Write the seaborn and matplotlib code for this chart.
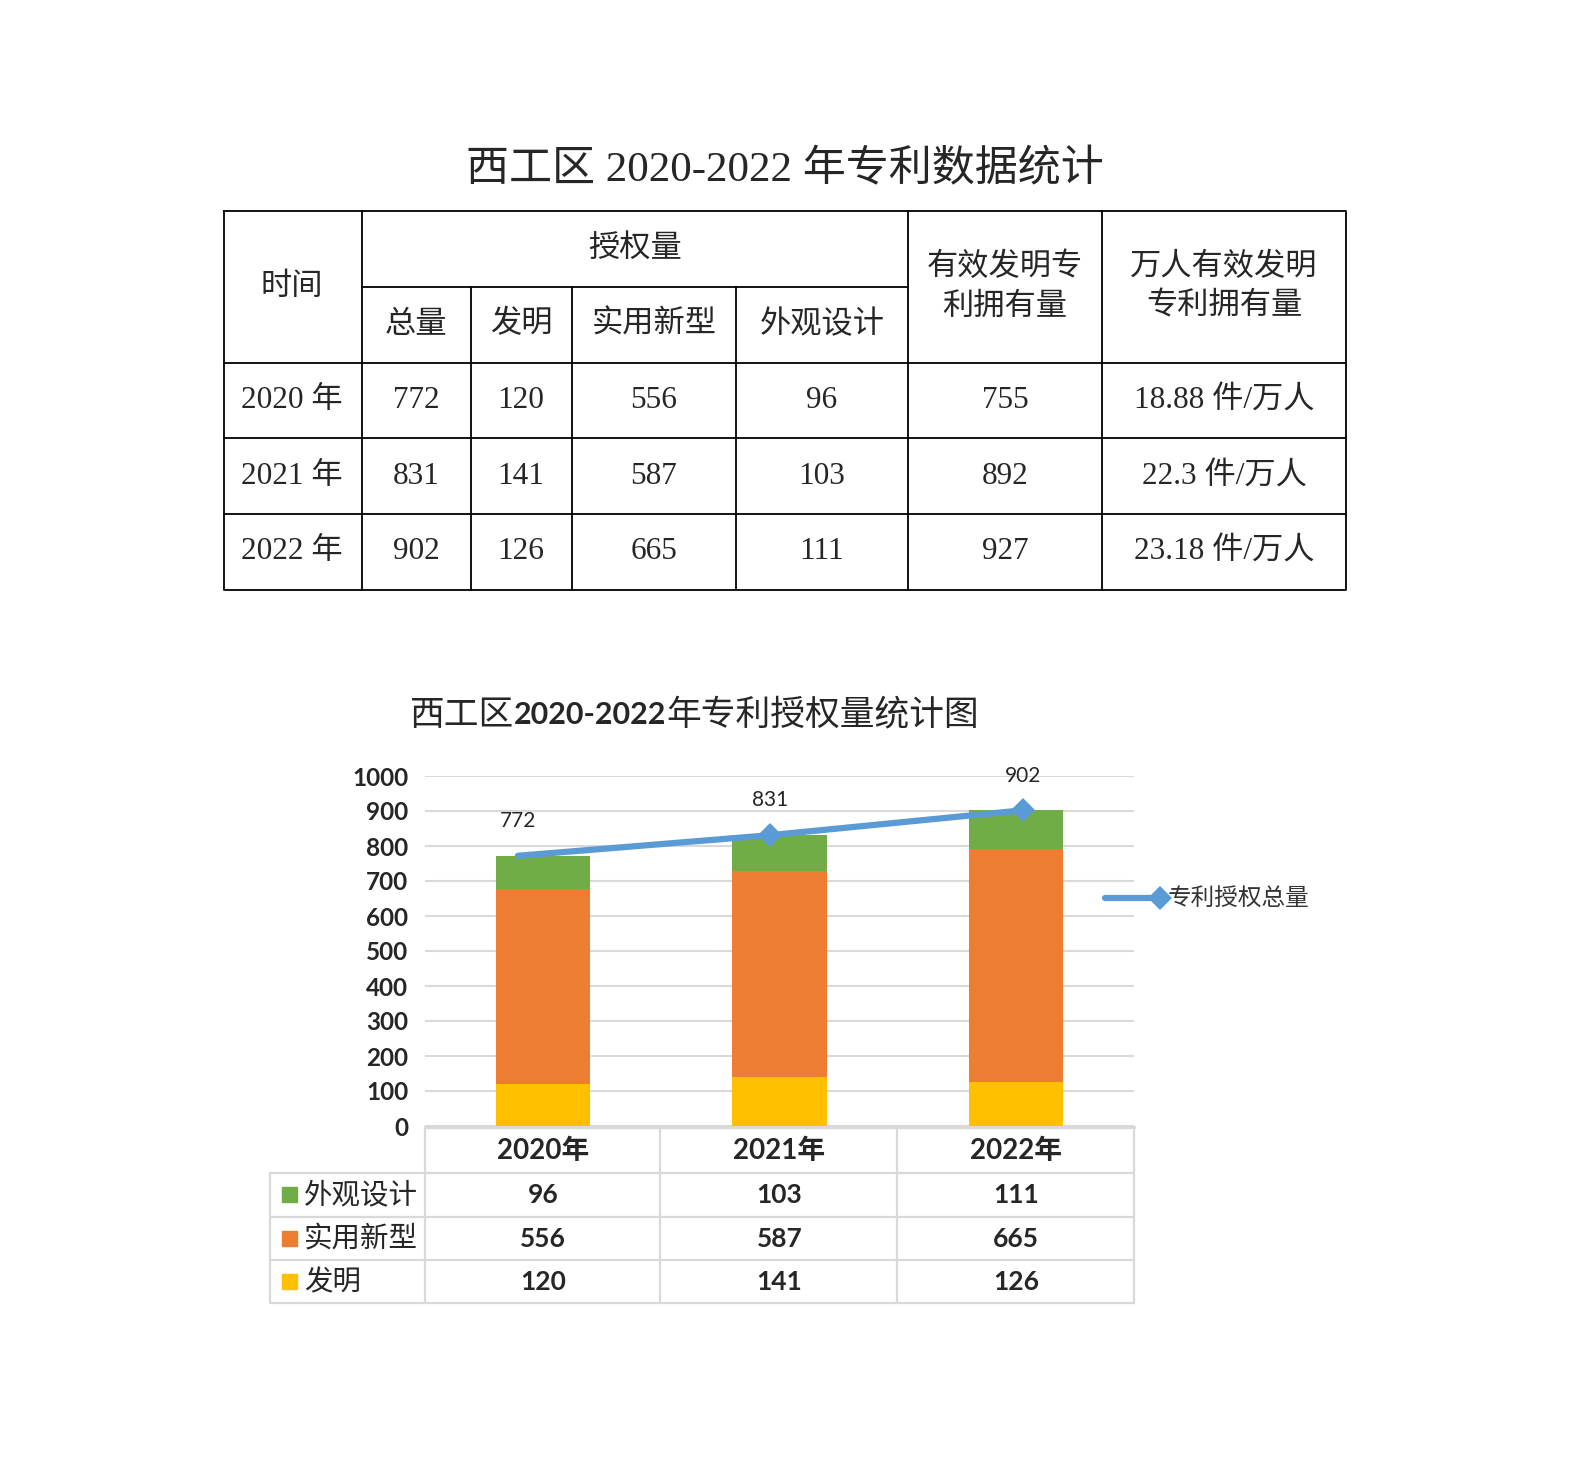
import numpy as np
import pandas as pd
import seaborn as sns
import matplotlib.pyplot as plt
import matplotlib.transforms as mtrans
from matplotlib.patches import Rectangle

# data
years = ['2020年', '2021年', '2022年']
total = [772, 831, 902]
invention = [120, 141, 126]
utility = [556, 587, 665]
design = [96, 103, 111]
valid_inv = [755, 892, 927]
per_10k = ['18.88', '22.3', '23.18']

series_names = ['外观设计', '实用新型', '发明']
series_vals = [design, utility, invention]
series_cols = ['#70AD47', '#ED7D31', '#FFC000']
line_col = '#5B9BD5'

sns.set_theme(style='white')
plt.rcParams['font.family'] = ['Lato', 'Noto Sans CJK SC', 'DejaVu Sans']

W, H = 1587, 1471
fig = plt.figure(figsize=(W / 100, H / 100), dpi=100)

# page axes in pixel coords (for the table and decorations)
tab = fig.add_axes([0, 0, 1, 1])
tab.set_xlim(0, W)
tab.set_ylim(H, 0)
tab.axis('off')

serif = ['Liberation Serif', 'Noto Sans CJK SC']

# ---- top table ----
tab.text(785, 170, '西工区 2020-2022 年专利数据统计', family=serif,
         fontsize=31, ha='center', va='center')

lc = dict(color='black', lw=1.3)
tab.plot([224, 1346, 1346, 224, 224], [211, 211, 590, 590, 211], **lc)
for y in [363, 438, 514]:
    tab.plot([224, 1346], [y, y], **lc)
tab.plot([362, 908], [287, 287], **lc)
for x in [362, 908, 1102]:
    tab.plot([x, x], [211, 590], **lc)
for x in [471, 572, 736]:
    tab.plot([x, x], [287, 590], **lc)

tfs = 22.5
col_x = [292, 416, 521, 654, 822, 1005, 1224]
tab.text(292, 287, '时间', family=serif, fontsize=tfs, ha='center', va='center')
tab.text(635, 249, '授权量', family=serif, fontsize=tfs, ha='center', va='center')
for x, s in zip(col_x[1:5], ['总量', '发明', '实用新型', '外观设计']):
    tab.text(x, 325, s, family=serif, fontsize=tfs, ha='center', va='center')
tab.text(1005, 287, '有效发明专\n利拥有量', family=serif, fontsize=tfs,
         ha='center', va='center', linespacing=1.5)
tab.text(1224, 287, '万人有效发明\n专利拥有量', family=serif, fontsize=tfs,
         ha='center', va='center', linespacing=1.5)

row_y = [400, 476, 551]
for i, y in enumerate(row_y):
    vals = [years[i].replace('年', ' 年'), total[i], invention[i], utility[i],
            design[i], valid_inv[i], per_10k[i] + ' 件/万人']
    for x, v in zip(col_x, vals):
        tab.text(x, y, str(v), family=serif, fontsize=tfs, ha='center', va='center')

# ---- chart ----
renderer = fig.canvas.get_renderer()
x0 = 410
for s, fam, fw, fs in [('西工区', 'Noto Sans CJK SC', 'normal', 25),
                       ('2020-2022', 'Lato', 'bold', 22),
                       ('年专利授权量统计图', 'Noto Sans CJK SC', 'normal', 25)]:
    t = tab.text(x0, 715, s, family=fam, fontweight=fw, fontsize=fs,
                 ha='left', va='center')
    x0 = t.get_window_extent(renderer).x1

ax = fig.add_axes([425 / W, 1 - 1126 / H, 709 / W, 350 / H])
ax.patch.set_alpha(0)
df = pd.DataFrame({'year': years, '发明': invention, '实用新型': utility, '外观设计': design})
bottom = np.zeros(len(years))
for name, col in zip(['发明', '实用新型', '外观设计'], ['#FFC000', '#ED7D31', '#70AD47']):
    sns.barplot(data=df, x='year', y=name, color=col, width=0.4, saturation=1,
                bottom=bottom.copy(), ax=ax, zorder=2, linewidth=0)
    bottom += df[name].values

ax.set_ylim(0, 1000)
ax.set_xlim(-0.5, 2.5)
ax.set_yticks(range(0, 1001, 100))
ax.set_xticks([])
ax.set_xlabel('')
ax.set_ylabel('')
ax.yaxis.grid(True, color='#d9d9d9', lw=1.5)
ax.set_axisbelow(True)
for sp in ax.spines.values():
    sp.set_visible(False)
ax.tick_params(axis='y', length=0, pad=12, labelsize=17.5)
for lab in ax.get_yticklabels():
    lab.set_fontweight('bold')

# total line on its own x scale
ax2 = ax.twiny()
sns.lineplot(x=[0, 1, 2], y=total, ax=ax2, color=line_col, lw=4.5,
             marker='D', markersize=12, markevery=[1, 2], markeredgewidth=0,
             legend=False, zorder=5)
ax2.set_xlim(-0.368, 2.44)
ax2.set_ylim(0, 1000)
ax2.set_axis_off()
for i, v in enumerate(total):
    ax2.annotate(str(v), (i, v), xytext=(0, 25), textcoords='offset points',
                 ha='center', va='center', fontsize=15)

# line legend
tab.plot([1105, 1160], [898, 898], color=line_col, lw=4.5, solid_capstyle='round')
tab.plot([1160], [898], marker='D', markersize=12, color=line_col, markeredgewidth=0)
tab.text(1168, 898, '专利授权总量', family='Noto Sans CJK SC', fontsize=17,
         ha='left', va='center', color='#333333')

# ---- data table under chart ----
gc = dict(color='#d9d9d9', lw=1.6)
tab.plot([425, 1134], [1127, 1127], color='#d9d9d9', lw=2.5)
for y in [1173, 1217, 1260, 1303]:
    tab.plot([270, 1134], [y, y], **gc)
tab.plot([270, 270], [1173, 1303], **gc)
for x in [425, 660, 897, 1134]:
    tab.plot([x, x], [1127, 1303], **gc)

bt = mtrans.blended_transform_factory(ax.transData, tab.transData)
for i, yr in enumerate(years):
    tab.text(i, 1151, yr, transform=bt, ha='center', va='center',
             fontsize=20, fontweight='bold')

tr_y = [1195, 1239, 1282]
for y, name, vals, col in zip(tr_y, series_names, series_vals, series_cols):
    tab.add_patch(Rectangle((282, y - 8), 15, 15, color=col))
    tab.text(304, y, name, family='Noto Sans CJK SC', fontsize=20.5,
             ha='left', va='center')
    for i, v in enumerate(vals):
        tab.text(i, y, str(v), transform=bt, ha='center', va='center',
                 fontsize=19, fontweight='bold')

fig.savefig('out.png', dpi=100)
